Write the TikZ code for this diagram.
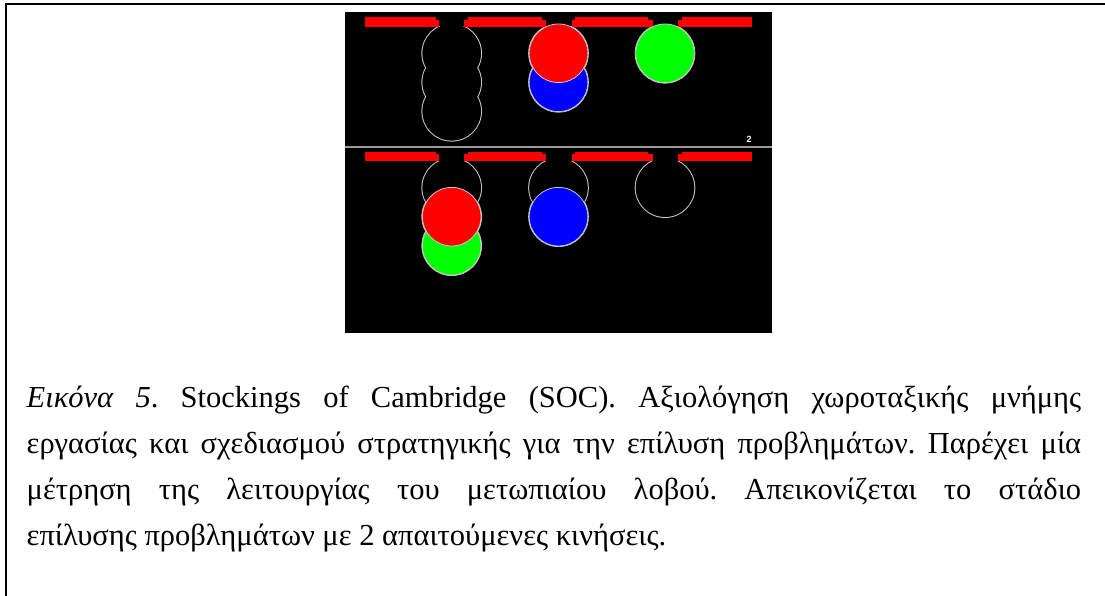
\documentclass[tikz,border=0pt]{standalone}
\usepackage{fontspec}
\setmainfont{Liberation Serif}
\setsansfont{Liberation Sans}
\definecolor{barred}{RGB}{255,0,0}
\definecolor{ballred}{RGB}{255,0,0}
\definecolor{ballblue}{RGB}{0,0,255}
\definecolor{ballgreen}{RGB}{0,255,0}
\definecolor{rimgray}{RGB}{200,200,200}
\definecolor{sepgray}{RGB}{155,155,155}
\begin{document}
\begin{tikzpicture}[x=1pt,y=-1pt,
  bar/.style={fill=barred},
  rim/.style={draw=rimgray,line width=2pt},
  hollow/.style={fill=black},
  ball/.style={draw=rimgray,line width=0.8pt},
  rack/.pic={
    % empty slot outlines: stroke, then blank the inside so only the outer rim stays
    \begin{scope}
      \clip (345,26.7) rectangle (771.7,146);
      \foreach \sy in {53.3,82.3,111.3} \draw[rim] (451.7,\sy) circle[radius=29.3];
      \foreach \sy in {53.3,82.3} \draw[rim] (558.5,\sy) circle[radius=29.3];
      \draw[rim] (665,53.3) circle[radius=29.3];
      \foreach \sy in {53.3,82.3,111.3} \fill[hollow] (451.7,\sy) circle[radius=29.3];
      \foreach \sy in {53.3,82.3} \fill[hollow] (558.5,\sy) circle[radius=29.3];
      \fill[hollow] (665,53.3) circle[radius=29.3];
    \end{scope}
    % the four shelf segments with their small lowered tabs
    \fill[bar] (365,17.3) rectangle (436,26.7);
    \fill[bar] (436,20) rectangle (439.3,26.7);
    \fill[bar] (464,20) rectangle (468.3,26.7);
    \fill[bar] (468.3,17.3) rectangle (541.7,26.7);
    \fill[bar] (541.7,20) rectangle (545.7,26.7);
    \fill[bar] (571.7,20) rectangle (575,26.7);
    \fill[bar] (575,17.3) rectangle (648.3,26.7);
    \fill[bar] (648.3,20) rectangle (652.7,26.7);
    \fill[bar] (677.7,20) rectangle (681.7,26.7);
    \fill[bar] (681.7,17.3) rectangle (752.3,26.7);
  }]
\useasboundingbox (0,0) rectangle (1105,596);
\fill[white] (0,0) rectangle (1105,596);

% frame
\draw[line width=2pt] (6,596) -- (6,3.7) -- (1105,3.7);

% screen
\fill[black] (345,12.3) rectangle (771.7,333);
\draw[sepgray,line width=2pt] (345,146.7) -- (771.7,146.7);

% upper board
\pic at (0,0) {rack};
\fill[ball,fill=ballblue] (558.5,82.3) circle[radius=29.3];
\fill[ball,fill=ballred] (558.5,53.3) circle[radius=29.3];
\fill[ball,fill=ballgreen] (665,53.3) circle[radius=29.3];
\node[text=white,font=\sffamily\bfseries\fontsize{9}{9}\selectfont,inner sep=0pt] (movecount) at (749,139) {2};

% lower board
\pic at (0,134.4) {rack};
\fill[ball,fill=ballgreen] (451.7,245.7) circle[radius=29.3];
\fill[ball,fill=ballred] (451.7,216.7) circle[radius=29.3];
\fill[ball,fill=ballblue] (558.5,216.7) circle[radius=29.3];

% caption
\node[anchor=base west,inner sep=0pt] (caption) at (26.5,407) {\parbox[t]{1054.5pt}{%
  \fontsize{30.5}{46.3}\selectfont\frenchspacing
  \hyphenpenalty=10000\exhyphenpenalty=10000\tolerance=10000
  \textit{Εικόνα 5}. Stockings of Cambridge (SOC). Αξιολόγηση χωροταξικής μνήμης\linebreak
  εργασίας και σχεδιασμού στρατηγικής για την επίλυση προβλημάτων. Παρέχει μία\linebreak
  μέτρηση της λειτουργίας του μετωπιαίου λοβού. Απεικονίζεται το στάδιο\linebreak
  επίλυσης προβλημάτων με 2 απαιτούμενες κινήσεις.}};
\end{tikzpicture}
\end{document}
